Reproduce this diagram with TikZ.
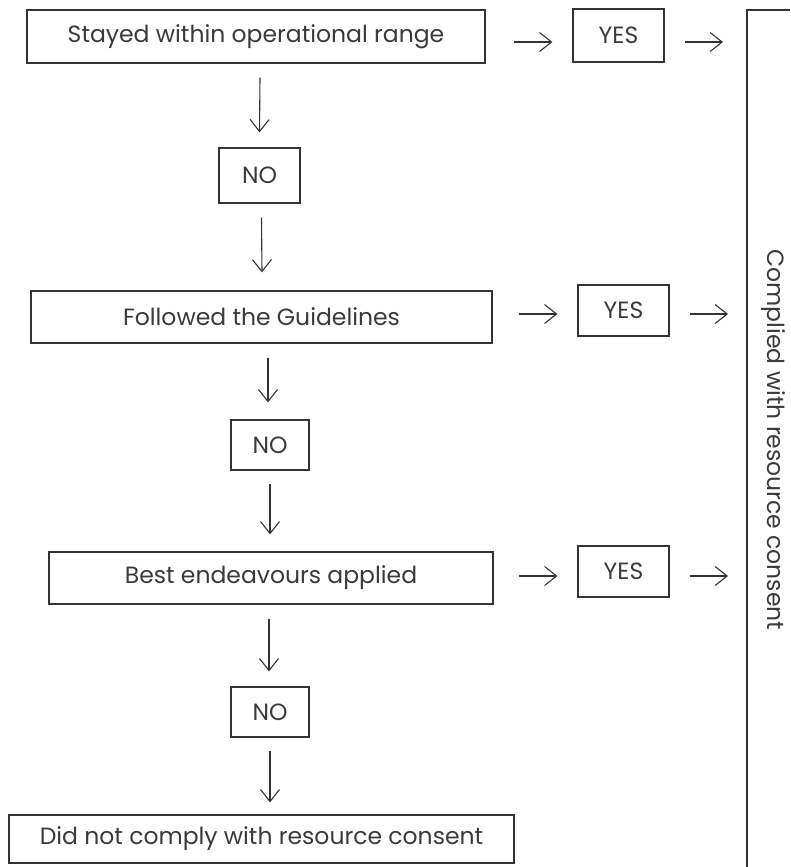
\documentclass[tikz,border=0pt]{standalone}
\usepackage{fontspec}
\setmainfont{Poppins}
\usetikzlibrary{arrows.meta,calc}
\definecolor{ink}{HTML}{333333}
\definecolor{txt}{HTML}{3A3A3A}
\begin{document}
\begin{tikzpicture}[x=1pt,y=-1pt,
  box/.style={draw=ink, line width=1.2pt, text=txt, inner sep=0pt,
    font=\fontsize{23.5}{26}\selectfont},
  arr/.style={draw=ink, line width=1.1pt, -{Straight Barb[length=12pt,width=19pt,line width=1.1pt]}}
]
\useasboundingbox (0,0) rectangle (790,867);
% main boxes
\node[box, minimum width=458pt, minimum height=53pt] (b1) at (256,36.5) {Stayed within operational range};
\node[box, minimum width=461pt, minimum height=52pt] (b2) at (261.5,317) {Followed the Guidelines};
\node[box, minimum width=444pt, minimum height=52pt] (b3) at (271,578) {Best endeavours applied};
\node[box, minimum width=505pt, minimum height=48pt] (b4) at (261.5,839) {Did not comply with resource consent};
% NO boxes
\node[box, minimum width=81pt, minimum height=55pt] (n1) at (259.5,175.5) {NO};
\node[box, minimum width=78pt, minimum height=50pt] (n2) at (270,445) {NO};
\node[box, minimum width=78pt, minimum height=50pt] (n3) at (270,712) {NO};
% YES boxes
\node[box, minimum width=91pt, minimum height=53pt] (y1) at (618.5,35.5) {YES};
\node[box, minimum width=91pt, minimum height=51pt] (y2) at (623.5,310.5) {YES};
\node[box, minimum width=91pt, minimum height=51pt] (y3) at (623.5,571.5) {YES};
% right result box
\coordinate (rt) at (790,10);
\coordinate (rc) at (747,10);
\coordinate (rb) at (747,867);
\draw[draw=ink, line width=1.2pt] (rt) -- (rc) -- (rb);
\node[text=txt, font=\fontsize{23.5}{26}\selectfont, rotate=-90] (res) at (773,440) {Complied with resource consent};
% vertical arrows
\draw[arr] ($(b1.south)+(4,14)$) -- ($(n1.north)+(0,-15)$);
\draw[arr] ($(n1.south)+(2,14)$) -- ($(b2.north)+(0.5,-18)$);
\draw[arr] ($(b2.south)+(6.5,14)$) -- ($(n2.north)+(-2,-17)$);
\draw[arr] ($(n2.south)+(0,13)$) -- ($(b3.north)+(-1,-17)$);
\draw[arr] ($(b3.south)+(-2,14)$) -- ($(n3.north)+(-1,-15)$);
\draw[arr] ($(n3.south)+(0,13)$) -- ($(b4.north)+(8.5,-12)$);
% horizontal arrows
\draw[arr] ($(b1.east)+(28,5.5)$) -- ($(y1.west)+(-20,6.5)$);
\draw[arr] ($(y1.east)+(20,6.5)$) -- ($(rc)+(-24,32)$);
\draw[arr] ($(b2.east)+(26,-3)$) -- ($(y2.west)+(-20,3.5)$);
\draw[arr] ($(y2.east)+(20,3.5)$) -- ($(rc)+(-19,304)$);
\draw[arr] ($(b3.east)+(25,-2)$) -- ($(y3.west)+(-20,4.5)$);
\draw[arr] ($(y3.east)+(20,4.5)$) -- ($(rc)+(-19,566)$);
\end{tikzpicture}
\end{document}
